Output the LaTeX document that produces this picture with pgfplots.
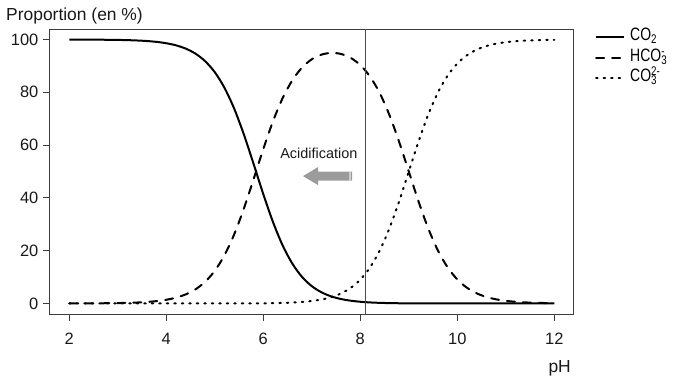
\documentclass[border=0pt]{standalone}
\usepackage{pgfplots}
\usepackage{pgfplotstable}
\pgfplotsset{compat=1.18}
\usepackage{fontspec}
\setmainfont{Liberation Sans}
\newfontfamily\narrowfont[FakeStretch=0.78]{Liberation Sans}
\definecolor{axgray}{RGB}{60,60,60}
\definecolor{vline}{rgb}{0.94,0.2,0.12}
\definecolor{arrowgray}{RGB}{155,155,155}
\definecolor{arrowlight}{RGB}{205,205,205}
\newcommand\subsup[2]{\rlap{\textsubscript{#1}}\textsuperscript{#2}}

\pgfplotstableread{
ph co2 hco3 co3
2.0 99.986 0.014 0
2.2 99.978 0.022 0
2.4 99.964 0.036 0
2.6 99.944 0.056 0
2.8 99.911 0.089 0
3.0 99.859 0.141 0
3.2 99.777 0.223 0
3.4 99.646 0.354 0
3.6 99.441 0.559 0
3.8 99.117 0.883 0
4.0 98.606 1.393 0.000
4.2 97.810 2.190 0.000
4.4 96.573 3.427 0.000
4.6 94.676 5.324 0.000
4.8 91.816 8.183 0.001
5.0 87.622 12.377 0.001
5.2 81.705 18.292 0.003
5.4 73.806 26.187 0.007
5.6 63.998 35.988 0.014
5.8 52.859 47.112 0.030
6.0 41.426 58.515 0.059
6.2 30.842 69.048 0.109
6.4 21.944 77.860 0.196
6.6 15.047 84.616 0.337
6.8 10.031 89.405 0.564
7.0 6.550 92.525 0.925
7.2 4.212 94.294 1.494
7.4 2.676 94.939 2.385
7.6 1.681 94.554 3.764
7.8 1.044 93.083 5.873
8.0 0.639 90.328 9.033
8.2 0.384 85.988 13.628
8.4 0.225 79.744 20.031
8.6 0.127 71.434 28.439
8.8 0.069 61.271 38.660
9.0 0.035 49.982 49.982
9.2 0.017 38.680 61.303
9.4 0.008 28.472 71.520
9.6 0.004 20.075 79.921
9.8 0.002 13.680 86.318
10.0 0.001 9.091 90.909
10.2 0.000 5.935 94.065
10.4 0.000 3.829 96.171
10.6 0.000 2.450 97.550
10.8 0.000 1.560 98.440
11.0 0.000 0.990 99.010
11.2 0.000 0.627 99.373
11.4 0.000 0.397 99.603
11.6 0.000 0.251 99.749
11.8 0.000 0.158 99.842
12.0 0.000 0.100 99.900
}\speciation

\begin{document}
\begin{tikzpicture}
\useasboundingbox (0bp,0bp) rectangle (674bp,378bp);
\begin{axis}[
  at={(49.9bp,64bp)}, anchor=south west,
  scale only axis, width=523.8bp, height=285bp,
  xmin=1.6, xmax=12.4, ymin=-4, ymax=104,
  xtick={2,4,...,12}, ytick={0,20,...,100},
  tick align=outside, tick pos=left,
  major tick length=7bp,
  every tick/.style={axgray, line width=0.9bp},
  axis line style={axgray, line width=0.9bp},
  /pgf/number format/assume math mode=true,
  ticklabel style={font=\fontsize{16.5}{18}\selectfont, text=black!90},
  yticklabel style={xshift=-1bp},
  xticklabel style={yshift=-9bp},
  legend style={draw=none, fill=none, at={(rel axis cs:1.035,1.013)}, anchor=north west,
    font=\narrowfont\fontsize{18}{19}\selectfont, row sep=1bp, column sep=4bp,
    nodes={text height=12.5bp, text depth=5bp, inner sep=1bp}},
  legend cell align=left,
  legend image code/.code={\draw[#1] (0bp,0bp) -- (28bp,0bp);},
  clip=false,
]
\addplot[black, line width=2bp, smooth, tension=0.5] table[x=ph, y=co2] {\speciation};
\addlegendentry{CO\textsubscript{2}}
\addplot[black, line width=2bp, line cap=round, dash pattern=on 8bp off 8bp, smooth, tension=0.5] table[x=ph, y=hco3] {\speciation};
\addlegendentry{HCO\subsup{3}{-}}
\addplot[black, line width=2bp, line cap=round, dash pattern=on 1.5bp off 6bp, smooth, tension=0.5] table[x=ph, y=co3] {\speciation};
\addlegendentry{CO\subsup{3}{2-}}
\addplot[color=red, line width=1.3bp, forget plot] coordinates {(8.1,-4) (8.1,104)};
% arrow
\fill[arrowgray] (axis cs:6.819,48.26) -- (axis cs:7.128,51.67) -- (axis cs:7.128,49.96)
  -- (axis cs:7.829,49.96) -- (axis cs:7.829,46.55) -- (axis cs:7.128,46.55)
  -- (axis cs:7.128,44.85) -- cycle;
\fill[arrowlight] (axis cs:7.77,49.96) rectangle (axis cs:7.80,46.55);
\node[font=\fontsize{14.5}{16}\selectfont, text=black!90] at (axis cs:7.145,57.0) {Acidification};
\node[anchor=base west, font=\fontsize{17.5}{20}\selectfont, text=black!90, inner sep=0pt]
  at ([xshift=-43.9bp, yshift=8.3bp]rel axis cs:0,1) {Proportion (en \%)};
\node[anchor=base east, font=\fontsize{17.5}{20}\selectfont, text=black!90, inner sep=0pt]
  at ([xshift=-2.7bp, yshift=-58.6bp]rel axis cs:1,0) {pH};
\end{axis}
\end{tikzpicture}
\end{document}
